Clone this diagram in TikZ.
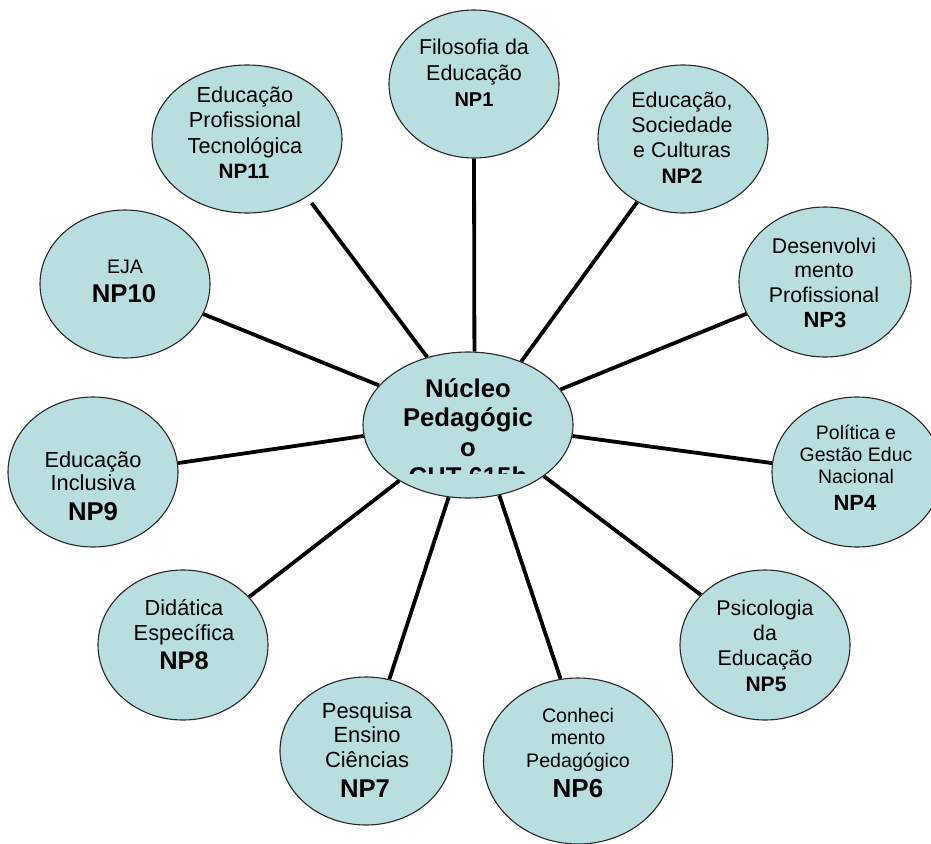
\documentclass[tikz,border=0pt]{standalone}
\usepackage{fontspec}
\setmainfont{Liberation Sans}
\usetikzlibrary{shapes.geometric,backgrounds}
\definecolor{bubblefill}{RGB}{184,222,224}
\definecolor{bubbleline}{RGB}{40,40,40}
\newcommand{\fs}[2]{\fontsize{#1}{#2}\selectfont}
\begin{document}
\begin{tikzpicture}[x=1pt,y=-1pt,
  bubble/.style={ellipse, draw=bubbleline, line width=1.1pt, fill=bubblefill, inner sep=0pt},
  link/.style={line width=3.8pt, black},
  % multi-line texts are anchored at the baseline of their last line
  body/.style={anchor=base, align=center, text=black, inner sep=0pt},
  tag/.style={anchor=base, text=black, inner sep=0pt, font=\bfseries}
]
\useasboundingbox (0,0) rectangle (931,843);

% hub
\node[bubble, minimum width=210pt, minimum height=146pt] (c) at (468,425) {};

% satellites
\node[bubble, minimum width=170pt, minimum height=148pt] (np1)  at (474,84)  {};
\node[bubble, minimum width=170pt, minimum height=148pt] (np2)  at (683,139) {};
\node[bubble, minimum width=172pt, minimum height=150pt] (np3)  at (825,282) {};
\node[bubble, minimum width=170pt, minimum height=150pt] (np4)  at (857,472) {};
\node[bubble, minimum width=170pt, minimum height=150pt] (np5)  at (765,645) {};
\node[bubble, minimum width=189pt, minimum height=166pt] (np6)  at (578,761) {};
\node[bubble, minimum width=172pt, minimum height=148pt] (np7)  at (366,751) {};
\node[bubble, minimum width=170pt, minimum height=150pt] (np8)  at (183,645) {};
\node[bubble, minimum width=170pt, minimum height=150pt] (np9)  at (93,472)  {};
\node[bubble, minimum width=170pt, minimum height=148pt] (np10) at (125,284) {};
\node[bubble, minimum width=190pt, minimum height=148pt] (np11) at (247,139) {};

% spokes
\begin{scope}[on background layer]
  \fill[white] (0,0) rectangle (931,843);
  \draw[link] (np1.270)   -- (c.85.4);
  \draw[link] (np2.234.7) -- (c.50.3);
  \draw[link] (np3.202.9) -- (c.21.5);
  \draw[link] (np4.174)   -- (c.-6.6);
  \draw[link] (np5.142.7) -- (c.-34.5);
  \draw[link] (np6.102)   -- (c.-66.7);
  \draw[link] (np7.72)    -- (c.255.4);
  \draw[link] (np8.36.9)  -- (c.219.6);
  \draw[link] (np9.6.7)   -- (c.186.5);
  \draw[link] (np10.-21.7) -- (c.156.3);
  \draw[link, shorten <=7.5pt] (np11.-44.1) -- (c.121.9);
\end{scope}

% hub text, cut off at the lower text margin
\begin{scope}
  \clip (300,340) rectangle (640,473);
  \node[body, font=\bfseries\fs{25.7}{29.5}] (ct) at (468,485.5) {Núcleo\\Pedagógic\\o\\CHT 615h};
\end{scope}

% satellite texts
\node[body, font=\fs{21.5}{25.5}] (t1) at (474,80.5) {Filosofia da\\Educação};
\node[tag, font=\bfseries\fs{20}{24}] (l1) at (474,106) {NP1};

\node[body, font=\fs{21.4}{24.7}] (t2) at (682,157) {Educação,\\Sociedade\\e Culturas};
\node[tag, font=\bfseries\fs{21}{24}] (l2) at (682,183) {NP2};

\node[body, font=\fs{21.3}{24.5}] (t3) at (824,302) {Desenvolvi\\mento\\Profissional};
\node[tag, font=\bfseries\fs{22}{24}] (l3) at (825,327) {NP3};

\node[body, font=\fs{19.5}{22}] (t4) at (856,483) {Política e\\Gestão Educ\\Nacional};
\node[tag, font=\bfseries\fs{22}{24}] (l4) at (855,510) {NP4};

\node[body, font=\fs{21.3}{25}] (t5) at (765,665) {Psicologia\\da\\Educação};
\node[tag, font=\bfseries\fs{21}{24}] (l5) at (766,691) {NP5};

\node[body, font=\fs{19.6}{22.5}] (t6) at (578,767) {Conheci\\mento\\Pedagógico};
\node[tag, font=\bfseries\fs{26}{28}] (l6) at (578,797) {NP6};

\node[body, font=\fs{21.9}{24.5}] (t7) at (367,767) {Pesquisa\\Ensino\\Ciências};
\node[tag, font=\bfseries\fs{25.7}{28}] (l7) at (365,797) {NP7};

\node[body, font=\fs{21.8}{25}] (t8) at (184,640) {Didática\\Específica};
\node[tag, font=\bfseries\fs{25.4}{28}] (l8) at (184,669) {NP8};

\node[body, font=\fs{21.8}{23}] (t9) at (93,490) {Educação\\Inclusiva};
\node[tag, font=\bfseries\fs{25.7}{28}] (l9) at (93,520) {NP9};

\node[body, font=\fs{19.6}{22}] (t10) at (125,273) {EJA};
\node[tag, font=\bfseries\fs{25.7}{28}] (l10) at (124,302) {NP10};

\node[body, font=\fs{21.7}{25.3}] (t11) at (245,153) {Educação\\Profissional\\Tecnológica};
\node[tag, font=\bfseries\fs{20.7}{24}] (l11) at (244,178) {NP11};
\end{tikzpicture}
\end{document}
